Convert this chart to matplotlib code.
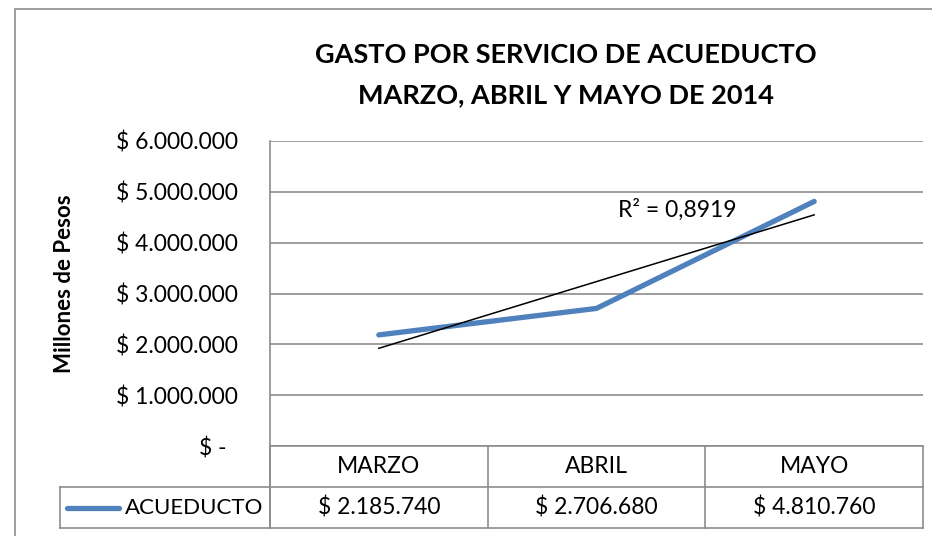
import numpy as np
import matplotlib
matplotlib.use('Agg')
import matplotlib.pyplot as plt
from matplotlib.patches import Rectangle
import matplotlib.transforms as mtransforms

plt.rcParams['font.family'] = ['Lato', 'DejaVu Sans']

meses = ['MARZO', 'ABRIL', 'MAYO']
acueducto = [2185740, 2706680, 4810760]
tabla = ['$ 2.185.740', '$ 2.706.680', '$ 4.810.760']
yticks = [0, 1000000, 2000000, 3000000, 4000000, 5000000, 6000000]
ylabels = ['$ -  ', '$ 1.000.000', '$ 2.000.000', '$ 3.000.000',
           '$ 4.000.000', '$ 5.000.000', '$ 6.000.000']
serie = 'ACUEDUCTO'

W, H = 932, 536
fig = plt.figure(figsize=(W / 100, H / 100), dpi=100)

# borde exterior del grafico
fig.patches.append(Rectangle((15 / W, -0.05), 1.1, (H - 9) / H + 0.05,
                             transform=fig.transFigure, fill=False,
                             edgecolor='#8c8c8c', linewidth=1.2))

ax = fig.add_axes([270 / W, (H - 446) / H, (923 - 270) / W, (446 - 141) / H])
x = np.arange(len(meses))

ax.set_xlim(-0.5, len(meses) - 0.5)
ax.set_ylim(0, 6000000)
ax.set_yticks(yticks)
ax.set_yticklabels(ylabels, fontsize=16.5)
ax.tick_params(axis='y', length=0, pad=23)
ax.set_xticks([])
ax.grid(axis='y', color='#8c8c8c', linewidth=1.2)
ax.set_axisbelow(True)
for s in ['top', 'right', 'bottom']:
    ax.spines[s].set_visible(False)
ax.spines['left'].set_color('#8c8c8c')
ax.spines['left'].set_linewidth(1.2)

ax.plot(x, acueducto, color='#4F81BD', linewidth=3.8, solid_capstyle='round')

# linea de tendencia lineal
p = np.polyfit(x, acueducto, 1)
fit = np.polyval(p, x)
r2 = 1 - np.sum((np.array(acueducto) - fit) ** 2) / np.sum((np.array(acueducto) - np.mean(acueducto)) ** 2)
ax.plot([x[0], x[-1]], np.polyval(p, [x[0], x[-1]]), color='black', linewidth=1.1)
ax.text(1.1, 4.65e6, 'R² = ' + ('%.4f' % r2).replace('.', ','), fontsize=16.5,
        va='center', ha='left')

ax.set_ylabel('Millones de Pesos', fontsize=16, fontweight='bold')
ax.yaxis.set_label_coords(-0.2986, 0.533)

fig.text(566 / W, 1 - 55 / H, 'GASTO POR SERVICIO DE ACUEDUCTO', ha='center',
         va='center', fontsize=19.5, fontweight='bold')
fig.text(566 / W, 1 - 95 / H, 'MARZO, ABRIL Y MAYO DE 2014', ha='center',
         va='center', fontsize=19.5, fontweight='bold')

# tabla de datos
tr = mtransforms.blended_transform_factory(ax.transData, ax.transAxes)
y1 = -41 / 305
y2 = -82 / 305
xl = (60 - 270) / 653
kw = dict(color='#8c8c8c', linewidth=1.2, clip_on=False)
ax.plot([0, 1], [0, 0], transform=ax.transAxes, **kw)
ax.plot([xl, 1], [y1, y1], transform=ax.transAxes, **kw)
ax.plot([xl, 1], [y2, y2], transform=ax.transAxes, **kw)
ax.plot([xl, xl], [y1, y2], transform=ax.transAxes, **kw)
ax.plot([0, 0], [0, y2], transform=ax.transAxes, **kw)
for b in np.arange(len(meses) + 1) - 0.5:
    ax.plot([b, b], [0, y2], transform=tr, **kw)
for i in range(len(meses)):
    ax.text(x[i], y1 / 2, meses[i], transform=tr, ha='center', va='center', fontsize=16.5)
    ax.text(x[i], (y1 + y2) / 2, tabla[i], transform=tr, ha='center', va='center', fontsize=16.5)
ax.plot([(67 - 270) / 653, (119 - 270) / 653], [(y1 + y2) / 2] * 2, transform=ax.transAxes,
        color='#4F81BD', linewidth=3.8, solid_capstyle='round', clip_on=False)
ax.text(-0.011, (y1 + y2) / 2, serie, transform=ax.transAxes, ha='right',
        va='center', fontsize=16)

fig.savefig('out.png', dpi=100)
